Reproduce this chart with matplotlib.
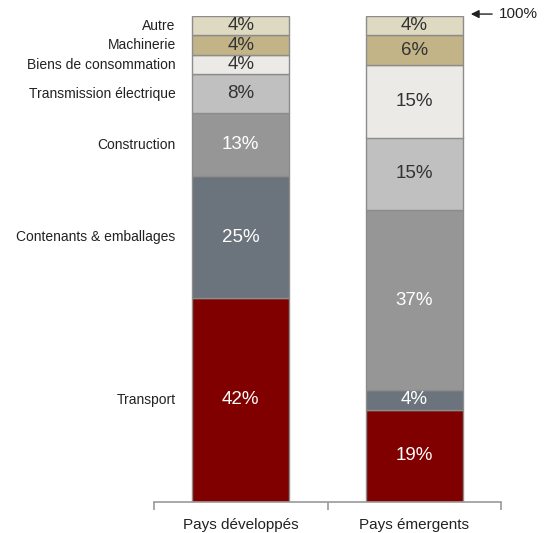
import matplotlib
matplotlib.use('Agg')
import matplotlib.pyplot as plt

plt.rcParams['font.family'] = ['Liberation Sans', 'DejaVu Sans']

# data (bottom to top)
groups = ['Pays développés', 'Pays émergents']
segments = ['Transport', 'Contenants & emballages', 'Construction',
            'Transmission électrique', 'Biens de consommation', 'Machinerie', 'Autre']
developed = [42, 25, 13, 8, 4, 4, 4]
emerging = [19, 4, 37, 15, 15, 6, 4]
colors = ['#800000', '#6b737c', '#969696', '#c0c0c0', '#ebeae6', '#c2b487', '#ded9c1']
text_colors = ['white', 'white', 'white', '#333333', '#333333', '#333333', '#333333']

fig = plt.figure(figsize=(5.44, 5.33), dpi=100)
ax = fig.add_axes([154 / 544, 31 / 533, (501 - 154) / 544, (502 - 16) / 533])

values = [developed, emerging]
for gi, vals in enumerate(values):
    bottom = 0
    for si, v in enumerate(vals):
        ax.bar(gi, v, bottom=bottom, width=0.56, color=colors[si],
               edgecolor='#8c8c8c', linewidth=1)
        ax.text(gi, bottom + v / 2, f'{v}%', ha='center', va='center',
                fontsize=13.5, color=text_colors[si])
        if gi == 0:
            ax.text(-0.375, bottom + v / 2, segments[si], ha='right', va='center',
                    fontsize=10, color='#222222')
        bottom += v

ax.set_xlim(-0.5, 1.5)
ax.set_ylim(0, 100)
for s in ['top', 'right', 'left']:
    ax.spines[s].set_visible(False)
ax.spines['bottom'].set_color('#999999')
ax.spines['bottom'].set_linewidth(1.2)
ax.set_yticks([])
ax.set_xticks([-0.5, 0.5, 1.5])
ax.set_xticklabels([])
ax.tick_params(axis='x', length=6, color='#999999', width=1.2)
for gi, g in enumerate(groups):
    ax.text(gi, -3.3, g, ha='center', va='top', fontsize=11, color='#222222')

# 100% marker
ax.annotate('', xy=(1.31, 100.4), xytext=(1.465, 100.4),
            arrowprops=dict(arrowstyle='-|>', color='#222222', lw=1, mutation_scale=12),
            annotation_clip=False)
ax.text(1.485, 100.4, '100%', ha='left', va='center', fontsize=11, color='#222222')

fig.savefig('out.png', dpi=100)
